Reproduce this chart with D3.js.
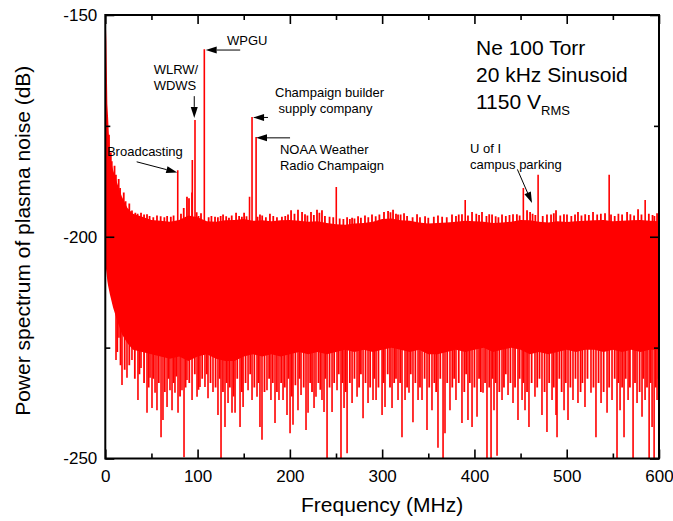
<html>
<head>
<script src="https://d3js.org/d3.v7.min.js"></script>
<style>
  body { margin: 0; background: #fff; }
  svg { font-family: Arial, "Liberation Sans", sans-serif; }
</style>
</head>
<body>
<svg id="chart"></svg>
<script>
// tick values
const xMajor = [0, 100, 200, 300, 400, 500, 600];
const xMinor = [50, 150, 250, 350, 450, 550];
const yMajor = [-150, -200, -250];
const yMinor = [-175, -225];

// solid noise band (MHz, dB)
const edgeFreq = [0, 0.6, 1.2, 2.2, 3, 5, 8.5, 13, 18, 24, 30, 40, 50,
  60, 70, 80, 90, 100, 110, 120, 130, 140, 150, 160, 170, 180, 190, 200,
  210, 220, 230, 240, 250, 260, 270, 280, 290, 300, 310, 320, 330, 340, 350,
  360, 370, 380, 390, 400, 410, 420, 430, 440, 450, 460, 470, 480, 490, 500,
  510, 520, 530, 540, 550, 560, 570, 580, 590, 600];
const edgeTop = [-150, -152, -156, -170, -173, -182, -185, -188, -191, -193.5, -194.8, -195.5, -196.2,
  -196.4, -196.6, -196.2, -195.2, -195.6, -196.5, -196.6, -196.3, -196.2, -196.0, -196.4, -196.3, -196.5, -196.3, -196.2,
  -196.4, -196.6, -196.5, -196.9, -197.2, -197.3, -197.0, -196.9, -196.6, -196.0, -195.9, -196.3, -196.4, -196.8, -197.0,
  -196.9, -196.8, -196.6, -196.4, -196.5, -196.6, -196.9, -196.8, -196.6, -196.2, -196.3, -196.6, -196.8, -196.5, -196.7,
  -196.5, -196.4, -196.3, -196.2, -196.5, -196.4, -196.3, -196.2, -196.4, -196.5];
const edgeBottom = [-206, -207, -208, -210, -211, -213, -216, -219, -222, -224, -225.5, -226, -226.5,
  -227, -227.5, -227, -228, -227, -226.5, -227.5, -228, -228, -227, -226.5, -227, -226.5, -227, -226.5,
  -226, -226.5, -226, -226.5, -226, -225.5, -226, -225.5, -226, -225.5, -225, -225.5, -226, -225.5, -226.5,
  -226.5, -226, -225.5, -226, -225.5, -225, -226, -225.5, -225, -225.5, -226.5, -226, -226.5, -226, -225.5,
  -226, -225.5, -225.5, -226, -225.5, -226, -225.5, -226, -225.5, -225.5];

// deep noise lines below the band
const dipFreq = [11.6, 14.8, 18.1, 23.5, 28.9, 35.4, 38.7, 45.2, 48.5, 50.6, 53.9, 56.0, 60.4, 62.5, 66.9,
  70.1, 72.3, 75.5, 78.8, 83.1, 85.3, 88.5, 94.0, 99.4, 102.6, 108.0, 111.3, 116.7, 122.1, 125.4, 129.7,
  133.0, 137.3, 140.6, 146.0, 149.3, 154.7, 159.0, 164.4, 167.6, 169.8, 175.2, 179.5, 183.9, 188.2, 192.6,
  196.9, 200.2, 203.4, 208.8, 212.1, 217.5, 219.7, 226.2, 228.3, 234.8, 237.0, 240.3, 245.7, 251.1, 255.4,
  258.7, 262.0, 267.4, 272.8, 279.3, 284.7, 290.1, 293.4, 299.9, 303.1, 310.7, 317.2, 321.5, 324.8, 329.1,
  333.4, 338.9, 343.2, 348.6, 354.0, 360.5, 366.0, 368.1, 373.5, 380.0, 386.5, 393.0, 397.4, 402.8, 409.3,
  413.6, 418.0, 421.2, 424.5, 429.9, 436.4, 441.8, 447.2, 451.6, 454.8, 459.1, 465.6, 473.2, 478.6, 484.1,
  488.4, 489.5, 497.1, 501.4, 506.8, 512.2, 519.8, 526.3, 531.7, 537.2, 543.7, 549.1, 554.5, 557.8, 562.1,
  566.5, 571.9, 576.2, 581.6, 584.9, 589.3, 592.5, 594.7, 597.9];
const dipLevel = [-227.8, -222.8, -233.4, -231.8, -227.8, -236.8, -229.6, -239.7, -231.8, -238.6, -235.2, -239.1, -245.2, -241.3, -238.4,
  -234.6, -239.1, -235.2, -239.7, -234.6, -249.7, -232.3, -236.8, -236.1, -233.9, -233.9, -236.4, -235.0, -240.2, -250, -242.9,
  -237.5, -239.7, -239.7, -242.9, -238.4, -234.6, -236.8, -236.1, -242.9, -245.8, -234.6, -236.8, -242.0, -236.8, -236.8,
  -240.2, -244.3, -242.4, -239.1, -235.7, -243.6, -239.7, -238.6, -236.1, -236.8, -239.5, -250, -239.5, -234.6, -250,
  -238.6, -248.8, -237.5, -236.1, -240.9, -237.5, -236.8, -236.8, -240.2, -238.4, -238.6, -236.8, -245.2, -236.8, -235.2,
  -241.8, -236.8, -236.8, -243.6, -239.1, -247.6, -250, -244.3, -239.1, -236.8, -242.0, -241.3, -242.9, -240.6, -235.2,
  -250, -250, -239.1, -249.4, -236.8, -235.7, -237.5, -241.3, -236.8, -239.1, -242.9, -236.1, -240.2, -244.0, -236.8,
  -240.2, -245.2, -239.1, -241.3, -236.8, -237.5, -238.4, -235.2, -245.2, -237.5, -239.7, -236.8, -250, -239.1, -245.2,
  -236.8, -250, -237.5, -240.6, -236.8, -250, -242.9, -250, -236.8];

// shorter lines between the deep ones
const midDipFreq = [13, 16.5, 21, 26, 32, 37, 42, 47, 52, 58, 64.5, 68.5, 74, 77, 81, 87, 91, 97, 101, 105,
  110, 114, 119.5, 124, 127.5, 131.5, 135, 139, 143, 148, 152, 157, 161.5, 166, 172.5, 177.5, 181.5, 186,
  190.5, 194.5, 198.5, 202, 206, 210.5, 215, 222, 224, 231, 233, 238.5, 243, 248, 253, 257, 260.5, 265,
  270, 275, 277, 282, 287, 291.5, 296, 301.5, 306, 308.5, 313, 315, 319.5, 327, 331, 336, 341, 346, 351,
  356.5, 358.5, 363, 370.5, 376, 378, 383, 389, 391, 395, 400, 405, 407, 411.5, 416, 419.5, 423, 427, 432,
  434, 439, 444, 449, 453, 457, 462, 468, 470.5, 476, 481, 486, 492, 494.5, 499, 504, 509.5, 515, 517,
  522.5, 529, 534.5, 540, 546, 552, 556, 560, 564, 568.5, 574, 579, 583, 587, 591, 596.5, 599.5];
const midDipLevel = [-226, -229, -230, -229, -232, -231, -233, -234, -232, -233, -235, -232, -233, -231.5, -236, -234, -233, -231, -234.5, -232,
  -231, -233, -234, -232, -235, -233, -234, -236, -232, -235, -233, -231, -234, -233, -235, -232, -233, -235,
  -233, -234, -232, -236, -233.5, -232, -234, -233, -235, -233, -234.5, -232, -234, -233, -231, -233, -235, -233,
  -232, -234, -231, -233, -234, -232, -234, -233, -231, -234, -233, -232, -233, -234, -231, -233, -234, -232, -234,
  -233, -235, -232, -233, -234, -232, -233, -235, -231, -233, -234, -232, -235, -233, -234, -232, -233, -235, -234,
  -231, -233, -234, -232, -233, -235, -233, -234, -232, -235, -233, -234, -232, -235, -233, -234, -232, -235, -233,
  -232, -234, -233, -235, -234, -232, -233, -234, -232, -234, -233, -235, -232, -234, -233, -234, -232];

// small upward lines on top of the band
const grassFreq = [4, 6, 7, 10, 11.5, 14.5, 16, 20, 22, 26, 28.9, 32.5, 35, 38.7, 42, 45.2, 48, 52, 56, 60, 64, 67,
  71, 74, 82, 85, 88.5, 90.7, 94.0, 99, 101, 103.7, 112, 115, 118.9, 122, 125, 127.6, 131, 134, 137, 141.7, 145,
  148, 150.4, 153, 165, 167.6, 170, 174, 178.4, 182, 186, 191.4, 195, 198, 201.3, 205, 208.8, 213.2, 216.4, 219,
  222.9, 226, 229.4, 232, 234.8, 238, 243, 247, 254, 258, 262.0, 265, 267.4, 270, 273.9, 277, 281.4, 285, 289.0,
  293, 297, 302.0, 306.4, 309, 311.8, 315, 317.2, 320, 323.7, 327, 333, 337.8, 341, 346.5, 350, 356, 360.5, 365,
  370, 375.7, 380, 383, 386.5, 393, 397.4, 402, 405, 408.2, 413, 416, 419.1, 423, 426, 429.9, 434, 438, 441.8,
  446, 449, 457.0, 460.3, 463, 466, 474, 478.6, 483, 486, 488.4, 493, 497, 500.3, 505, 509, 512.2, 516, 520, 524,
  528.5, 533, 537, 541.5, 548, 552, 556, 560, 565.4, 569, 573, 577.3, 581, 589, 593, 595, 597.9];
const grassLevel = [-177, -181, -183, -184, -186, -187, -189, -190, -192, -192.5, -194.1, -194.6, -194.8, -194.6, -195, -194.9, -195.3, -195.6, -195.2, -195.4, -195.6, -195.3,
  -195.5, -195.2, -194.8, -193.5, -191.0, -191.3, -190.0, -194.5, -195.3, -194.7, -195.6, -195.3, -195.5, -195.6, -195.3, -195.0, -195.4, -195.7, -195.2, -194.6, -195.3,
  -195.5, -194.6, -195.4, -195.5, -195.0, -195.2, -195.6, -194.8, -195.3, -195.6, -195.5, -195.3, -195.0, -194.0, -194.8, -193.9, -194.4, -194.9, -195.2,
  -194.4, -195.1, -193.9, -194.6, -194.0, -195.3, -195.5, -195.6, -195.9, -196.0, -195.6, -196.0, -195.7, -195.9, -195.4, -195.7, -195.2, -195.6, -195.0,
  -195.4, -195.0, -194.4, -194.2, -194.5, -193.9, -194.8, -195.0, -195.0, -194.7, -195.3, -195.6, -194.9, -195.6, -195.4, -195.7, -195.5, -195.2, -195.5,
  -195.6, -195.0, -195.3, -195.0, -194.9, -195.2, -194.4, -194.8, -195.1, -194.4, -195.3, -194.9, -195.0, -195.4, -195.6, -195.0, -195.3, -195.1, -194.9,
  -194.9, -195.2, -194.0, -194.4, -194.8, -195.1, -195.3, -195.0, -195.0, -194.7, -194.0, -195.2, -194.9, -195.0, -195.3, -195.0, -194.4, -195.2, -194.9, -195.1,
  -194.4, -195.0, -194.8, -194.7, -195.0, -195.3, -194.8, -195.0, -194.4, -194.9, -195.2, -193.8, -195.0, -194.8, -195.1, -195.3, -194.7];

// isolated carrier lines
const peakFreq = [78.5, 94.3, 97.2, 107.3, 156.3, 159.0, 163.4, 250.3, 390, 453, 469, 546, 585];
const peakLevel = [-185, -182.7, -173.7, -157.7, -191, -173, -177.5, -188.8, -191.7, -189, -186, -186, -191.7];

// annotation text (lines, anchor in MHz / dB)
const notes = [
  { lines: ["WPGU"], f: 131.9, db: -156.8 },
  { lines: ["WLRW/", "WDWS"], f: 52.4, db: -163.3 },
  { lines: ["Broadcasting"], f: 1.8, db: -181.9 },
  { lines: ["Champaign builder", " supply company"], f: 183.9, db: -168.4 },
  { lines: ["NOAA Weather", "Radio Champaign"], f: 189.3, db: -181.3 },
  { lines: ["U of I", "campus parking"], f: 395.2, db: -181.1 }
];
// arrows: from (f0, d0) to tip (f1, d1)
const arrows = [
  [146.2, -157.9, 108.8, -157.9],
  [96.4, -168.3, 96.4, -173.2],
  [34.0, -183.1, 78.0, -185.5],
  [176.3, -173.1, 160.1, -173.1],
  [200.2, -177.7, 163.3, -177.7],
  [446.5, -184.8, 462.4, -192.4]
];

const W = 673, H = 521;
const margin = { top: 15, right: 14, bottom: 62.5, left: 105.3 };
const svg = d3.select("#chart").attr("width", W).attr("height", H);

const x = d3.scaleLinear().domain([0, 600]).range([margin.left, W - margin.right]);
const y = d3.scaleLinear().domain([-250, -150]).range([H - margin.bottom, margin.top]);
const red = "#ff0000";

svg.append("defs").append("clipPath").attr("id", "plotclip")
  .append("rect")
  .attr("x", x(0)).attr("y", y(-150))
  .attr("width", x(600) - x(0)).attr("height", y(-250) - y(-150));

const plot = svg.append("g").attr("clip-path", "url(#plotclip)");

// noise band
const area = d3.area()
  .x(i => x(edgeFreq[i]))
  .y0(i => y(edgeBottom[i]))
  .y1(i => y(edgeTop[i]));
plot.append("path")
  .attr("d", area(d3.range(edgeFreq.length)))
  .attr("fill", red);

function spikes(cls, fs, levels, from, w) {
  plot.selectAll("." + cls)
    .data(d3.range(fs.length))
    .join("line")
    .attr("class", cls)
    .attr("x1", i => x(fs[i])).attr("x2", i => x(fs[i]))
    .attr("y1", y(from)).attr("y2", i => y(levels[i]))
    .attr("stroke", red).attr("stroke-width", w);
}
spikes("middip", midDipFreq, midDipLevel, -214, 1.8);
spikes("dip", dipFreq, dipLevel, -214, 1.6);
spikes("grass", grassFreq, grassLevel, -199, 1.8);
spikes("peak", peakFreq, peakLevel, -199, 1.6);

// axes: ticks point inward on all four sides
const noLabel = () => "";
const label = d => String(d);
function addAxis(axis, tf) {
  const g = svg.append("g").attr("transform", tf).call(axis);
  g.select(".domain").remove();
  g.selectAll(".tick line").attr("stroke", "#000").attr("stroke-width", 1.6);
  g.selectAll("text").attr("fill", "#000").style("font-size", "17px");
  return g;
}
const bottomY = y(-250), topY = y(-150), leftX = x(0), rightX = x(600);

addAxis(d3.axisBottom(x).tickValues(xMajor).tickSize(-9).tickPadding(11.5).tickFormat(label), `translate(0,${bottomY})`);
addAxis(d3.axisBottom(x).tickValues(xMinor).tickSize(-5).tickFormat(noLabel), `translate(0,${bottomY})`);
addAxis(d3.axisTop(x).tickValues(xMajor).tickSize(-9).tickFormat(noLabel), `translate(0,${topY})`);
addAxis(d3.axisTop(x).tickValues(xMinor).tickSize(-5).tickFormat(noLabel), `translate(0,${topY})`);
addAxis(d3.axisLeft(y).tickValues(yMajor).tickSize(-9).tickPadding(8).tickFormat(label), `translate(${leftX},0)`);
addAxis(d3.axisLeft(y).tickValues(yMinor).tickSize(-5).tickFormat(noLabel), `translate(${leftX},0)`);
addAxis(d3.axisRight(y).tickValues(yMajor).tickSize(-9).tickFormat(noLabel), `translate(${rightX},0)`);
addAxis(d3.axisRight(y).tickValues(yMinor).tickSize(-5).tickFormat(noLabel), `translate(${rightX},0)`);

svg.append("rect")
  .attr("x", leftX).attr("y", topY)
  .attr("width", rightX - leftX).attr("height", bottomY - topY)
  .attr("fill", "none").attr("stroke", "#000").attr("stroke-width", 2);

// axis titles
svg.append("text")
  .attr("x", (leftX + rightX) / 2).attr("y", 512)
  .attr("text-anchor", "middle").style("font-size", "21px")
  .text("Frequency (MHz)");
svg.append("text")
  .attr("transform", `translate(30,${(topY + bottomY) / 2 + 4}) rotate(-90)`)
  .attr("text-anchor", "middle").style("font-size", "21px")
  .text("Power spectrum of plasma noise (dB)");

// condition text
const cond = svg.append("g").style("font-size", "21px");
cond.append("text").attr("x", x(401.7)).attr("y", y(-159.0)).text("Ne 100 Torr");
cond.append("text").attr("x", x(401.7)).attr("y", y(-165.1)).text("20 kHz Sinusoid");
const vt = cond.append("text").attr("x", x(401.7)).attr("y", y(-171.1));
vt.append("tspan").text("1150 V");
vt.append("tspan").attr("dy", 6.5).style("font-size", "13px").text("RMS");

// annotations
const ann = svg.append("g").style("font-size", "13px");
notes.forEach(n => {
  n.lines.forEach((ln, k) => {
    ann.append("text")
      .attr("x", x(n.f)).attr("y", y(n.db) + k * 16)
      .attr("xml:space", "preserve")
      .text(ln);
  });
});

arrows.forEach(a => {
  const x0 = x(a[0]), y0 = y(a[1]), x1 = x(a[2]), y1 = y(a[3]);
  const ang = Math.atan2(y1 - y0, x1 - x0);
  const L = 11, hw = 3.5;
  const bx = x1 - L * Math.cos(ang), by = y1 - L * Math.sin(ang);
  svg.append("line")
    .attr("x1", x0).attr("y1", y0).attr("x2", bx).attr("y2", by)
    .attr("stroke", "#000").attr("stroke-width", 1);
  const px = -Math.sin(ang) * hw, py = Math.cos(ang) * hw;
  svg.append("path")
    .attr("d", `M${x1},${y1}L${bx + px},${by + py}L${bx - px},${by - py}Z`)
    .attr("fill", "#000");
});
</script>
</body>
</html>
